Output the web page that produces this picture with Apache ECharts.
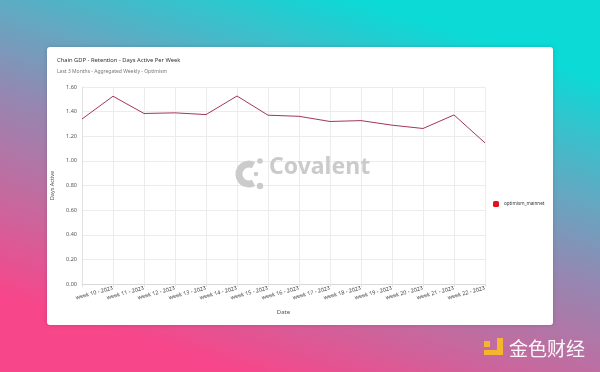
<!DOCTYPE html>
<html>
<head>
<meta charset="utf-8">
<script src="https://cdn.jsdelivr.net/npm/echarts@6/dist/echarts.min.js"></script>
<style>html,body{margin:0;padding:0;}#c{width:600px;height:372px;}</style>
</head>
<body>
<div id="c"></div>
<script>
const categories = ['week 9 - 2023','week 10 - 2023','week 11 - 2023','week 12 - 2023','week 13 - 2023','week 14 - 2023','week 15 - 2023','week 16 - 2023','week 17 - 2023','week 18 - 2023','week 19 - 2023','week 20 - 2023','week 21 - 2023','week 22 - 2023'];
const daysActive = [1.34, 1.525, 1.385, 1.39, 1.376, 1.527, 1.371, 1.362, 1.32, 1.327, 1.29, 1.263, 1.373, 1.146];
const seriesName = 'optimism_mainnet';
const titleText = 'Chain GDP - Retention - Days Active Per Week';
const subtitleText = 'Last 3 Months - Aggregated Weekly - Optimism';

const chart = echarts.init(document.getElementById('c'), null, {renderer: 'canvas'});
const FONT = 'Noto Sans';
chart.setOption({
  animation: false,
  textStyle: {fontFamily: FONT},
  graphic: [
    {type: 'rect', z: -20, silent: true, shape: {x: 0, y: 0, width: 600, height: 372},
      style: {fill: new echarts.graphic.LinearGradient(0.4, 1, 0.6, 0, [
        {offset: 0, color: '#f7468a'},
        {offset: 0.25, color: '#c46a9f'},
        {offset: 0.5, color: '#9388b2'},
        {offset: 0.7, color: '#62a9c2'},
        {offset: 1, color: '#0bdad6'}
      ], false)}},
    {type: 'rect', z: -19, silent: true, shape: {x: 47, y: 47, width: 506, height: 278, r: 3},
      style: {fill: '#ffffff', shadowBlur: 4, shadowColor: 'rgba(0,0,0,0.15)'}},
    {type: 'text', z: -18, left: 57, top: 57, style: {text: titleText, font: '5.8px "Noto Sans"', fill: '#333'}},
    {type: 'text', z: -18, left: 57, top: 69, style: {text: subtitleText, font: '5px "Noto Sans"', fill: '#777'}},
    // Covalent watermark
    {type: 'arc', z: 1, silent: true, shape: {cx: 249, cy: 174, r: 10, startAngle: Math.PI * 0.35, endAngle: Math.PI * 1.65},
      style: {stroke: '#cbcbcb', lineWidth: 7, fill: null}},
    {type: 'circle', z: 1, silent: true, shape: {cx: 260, cy: 161, r: 2.8}, style: {fill: '#cbcbcb'}},
    {type: 'circle', z: 1, silent: true, shape: {cx: 256, cy: 174, r: 2.3}, style: {fill: '#cbcbcb'}},
    {type: 'circle', z: 1, silent: true, shape: {cx: 260, cy: 186, r: 3.2}, style: {fill: '#cbcbcb'}},
    {type: 'text', z: 1, left: 269, top: 156, style: {text: 'Covalent', font: 'bold 23px "Noto Sans"', fill: '#cbcbcb'}},
    // 金色财经 watermark
    {type: 'rect', z: -18, shape: {x: 484, y: 341, width: 6, height: 6}, style: {fill: '#f6b530'}},
    {type: 'rect', z: -18, shape: {x: 497, y: 338, width: 6, height: 17}, style: {fill: '#f6b530'}},
    {type: 'rect', z: -18, shape: {x: 484, y: 350, width: 19, height: 5}, style: {fill: '#f6b530'}},
    {type: 'text', z: -18, left: 509, top: 339, style: {text: '金色财经', font: '19px "Noto Sans CJK SC"', fill: 'rgba(255,255,255,0.95)'}}
  ],
  grid: {left: 82, right: 115, top: 87, bottom: 88, containLabel: false},
  legend: {
    orient: 'vertical', left: 488, top: 196, itemWidth: 6, itemHeight: 6, itemGap: 4,
    icon: 'roundRect',
    textStyle: {fontSize: 4.6, color: '#333', fontFamily: FONT, overflow: 'none'},
    data: [{name: seriesName, itemStyle: {color: '#e4101e'}}]
  },
  xAxis: {
    type: 'category', data: categories, boundaryGap: false,
    name: 'Date', nameLocation: 'middle', nameGap: 25,
    nameTextStyle: {fontSize: 6, color: '#555'},
    axisLine: {show: true, lineStyle: {color: '#d9d9d9', width: 1}},
    axisTick: {show: true, length: 3, interval: 0, lineStyle: {color: '#e3e3e3'}},
    axisLabel: {rotate: 15, fontSize: 5.5, color: '#444', margin: 4, interval: (i) => i !== 0},
    splitLine: {show: true, interval: 0, lineStyle: {color: '#ececec', width: 1}}
  },
  yAxis: {
    type: 'value', min: 0, max: 1.6, interval: 0.2,
    name: 'Days Active', nameLocation: 'middle', nameGap: 20, nameRotate: 90,
    nameTextStyle: {fontSize: 5.5, color: '#555'},
    axisLine: {show: true, lineStyle: {color: '#e0e0e0'}},
    axisTick: {show: false},
    axisLabel: {fontSize: 5.5, color: '#555', margin: 5, formatter: v => v.toFixed(2)},
    splitLine: {show: true, lineStyle: {color: '#ececec', width: 1}}
  },
  series: [{
    name: seriesName, type: 'line', data: daysActive, z: 3,
    showSymbol: false, symbol: 'none',
    lineStyle: {color: '#a3365a', width: 1},
    itemStyle: {color: '#e4101e'}
  }]
});
</script>
</body>
</html>
